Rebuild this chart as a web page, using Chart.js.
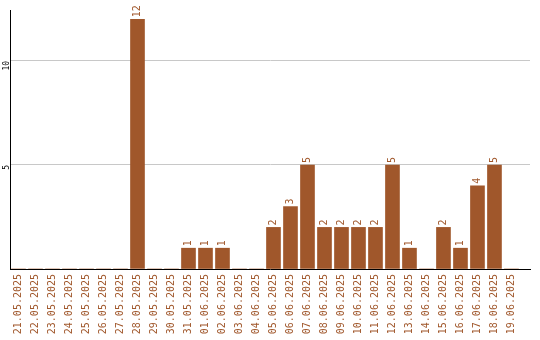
<!DOCTYPE html>
<html>
<head>
<meta charset="utf-8">
<script src="https://cdn.jsdelivr.net/npm/chart.js@4/dist/chart.umd.min.js"></script>
<style>
  html, body { margin: 0; padding: 0; background: #fff; }
  #wrap { width: 540px; height: 340px; }
</style>
</head>
<body>
<div id="wrap"><canvas id="chart" width="540" height="340"></canvas></div>
<script>
// Dates (categories)
const dates = [
  '21.05.2025', '22.05.2025', '23.05.2025', '24.05.2025', '25.05.2025',
  '26.05.2025', '27.05.2025', '28.05.2025', '29.05.2025', '30.05.2025',
  '31.05.2025', '01.06.2025', '02.06.2025', '03.06.2025', '04.06.2025',
  '05.06.2025', '06.06.2025', '07.06.2025', '08.06.2025', '09.06.2025',
  '10.06.2025', '11.06.2025', '12.06.2025', '13.06.2025', '14.06.2025',
  '15.06.2025', '16.06.2025', '17.06.2025', '18.06.2025', '19.06.2025'
];

// Counts per day
const counts = [
  0, 0, 0, 0, 0,
  0, 0, 12, 0, 0,
  1, 1, 1, 0, 0,
  2, 3, 5, 2, 2,
  2, 2, 5, 1, 0,
  2, 1, 4, 5, 0
];

// Y tick labels shown
const yTicks = [5, 10];

const BAR_COLOR = '#a0572b';

// numbers above the bars, rotated
const valueLabels = {
  id: 'valueLabels',
  afterDatasetsDraw(chart) {
    const ctx = chart.ctx;
    const meta = chart.getDatasetMeta(0);
    ctx.save();
    ctx.fillStyle = BAR_COLOR;
    ctx.font = '10px "DejaVu Sans Mono", monospace';
    ctx.textAlign = 'left';
    ctx.textBaseline = 'middle';
    meta.data.forEach((bar, i) => {
      const v = counts[i];
      if (!v) return;
      ctx.save();
      ctx.translate(bar.x, bar.y - 2);
      ctx.rotate(-Math.PI / 2);
      ctx.fillText(String(v), 0, 0);
      ctx.restore();
    });
    ctx.restore();
  }
};

new Chart(document.getElementById('chart'), {
  type: 'bar',
  data: {
    datasets: [{
      data: counts.map((c, i) => ({ x: i, y: c })),
      backgroundColor: BAR_COLOR,
      borderWidth: 0,
      barThickness: 14
    }]
  },
  options: {
    responsive: false,
    animation: false,
    layout: { padding: { top: 10, right: 10, left: 0, bottom: 0 } },
    plugins: {
      legend: { display: false },
      tooltip: { enabled: false }
    },
    scales: {
      x: {
        type: 'linear',
        offset: false,
        bounds: 'data',
        min: -0.5,
        max: 30.09,
        grid: { display: false, drawTicks: false },
        border: { display: true, color: '#000', width: 1 },
        afterFit: s => { s.height = 71; },
        afterBuildTicks: s => {
          s.ticks = dates.map((d, i) => ({ value: i }));
        },
        ticks: {
          autoSkip: false,
          minRotation: 90,
          maxRotation: 90,
          padding: 5,
          color: BAR_COLOR,
          font: { family: 'DejaVu Sans Mono', size: 10 },
          callback: v => dates[v] ?? ''
        }
      },
      y: {
        min: 0,
        max: 12.45,
        afterFit: s => { s.width = 10; },
        afterBuildTicks: s => {
          s.ticks = [{ value: 0 }].concat(yTicks.map(v => ({ value: v })));
        },
        grid: {
          drawTicks: false,
          color: c => (yTicks.includes(c.tick.value) ? '#c8c8c8' : 'rgba(0,0,0,0)'),
          lineWidth: 1
        },
        border: { display: true, color: '#000', width: 1 },
        ticks: {
          minRotation: 90,
          maxRotation: 90,
          padding: 3,
          color: '#000',
          font: { family: 'DejaVu Sans Mono', size: 8 },
          callback: v => (yTicks.includes(v) ? String(v) : '')
        }
      }
    }
  },
  plugins: [valueLabels]
});
</script>
</body>
</html>
